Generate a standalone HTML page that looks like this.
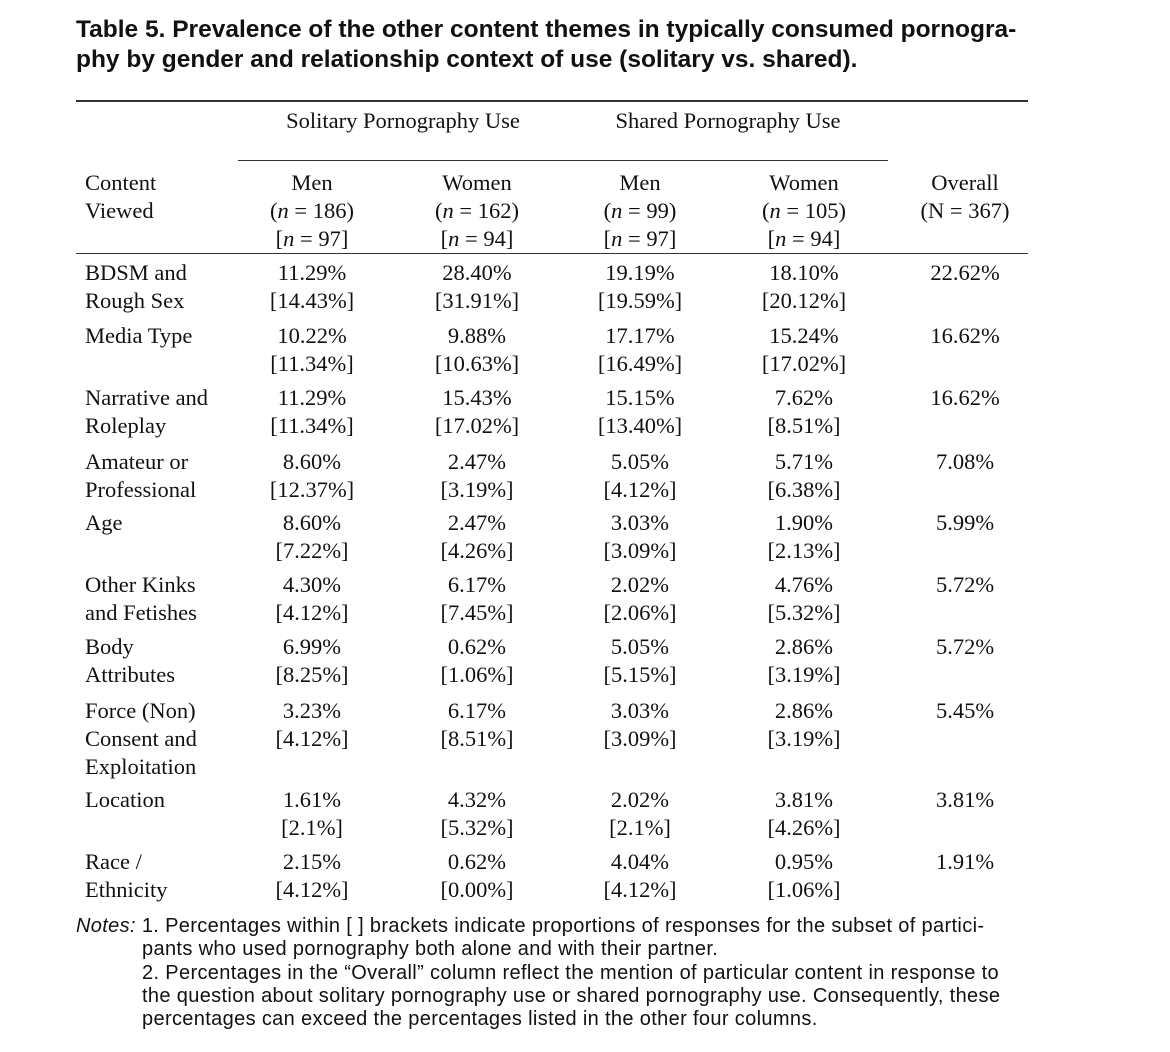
<!DOCTYPE html>
<html><head><meta charset="utf-8">
<style>
body{margin:0;width:1170px;height:1052px;background:#fff;position:relative;overflow:hidden;color:#111}
.t{position:absolute;font-family:"Liberation Sans",sans-serif;font-weight:bold;font-size:24.5px;left:76px;white-space:nowrap}
.s{position:absolute;font-family:"Liberation Serif",serif;font-size:22.5px;white-space:nowrap;line-height:28px}
.c{transform:translateX(-50%);text-align:center}
.r{position:absolute;background:#333;height:1.5px}
.n{position:absolute;font-family:"Liberation Sans",sans-serif;font-size:20px;letter-spacing:0.35px;white-space:nowrap;line-height:22px}
</style></head><body>
<div class="t" style="top:16px">Table 5. Prevalence of the other content themes in typically consumed pornogra-</div>
<div class="t" style="top:46px">phy by gender and relationship context of use (solitary vs. shared).</div>
<div class="r" style="top:100px;left:76px;width:952px"></div>
<div class="s c" style="top:107px;left:403px">Solitary Pornography Use</div>
<div class="s c" style="top:107px;left:728px">Shared Pornography Use</div>
<div class="r" style="top:160px;left:238px;width:650px;height:1px"></div>
<div class="s" style="top:169px;left:85px">Content<br>Viewed</div>
<div class="r" style="top:253px;left:76px;width:952px;height:1px"></div>
<div id="body"></div>
<div class="n" style="top:915px;left:76px"><i>Notes:</i> 1. Percentages within [ ] brackets indicate proportions of responses for the subset of partici-</div>
<div class="n" style="top:938px;left:142px">pants who used pornography both alone and with their partner.</div>
<div class="n" style="top:962px;left:142px">2. Percentages in the “Overall” column reflect the mention of particular content in response to</div>
<div class="n" style="top:985px;left:142px">the question about solitary pornography use or shared pornography use. Consequently, these</div>
<div class="n" style="top:1008px;left:142px">percentages can exceed the percentages listed in the other four columns.</div>
<script>
const colX=[312,477,640,804,965];
const headers=[["Men","(<i>n</i> = 186)","[<i>n</i> = 97]"],["Women","(<i>n</i> = 162)","[<i>n</i> = 94]"],["Men","(<i>n</i> = 99)","[<i>n</i> = 97]"],["Women","(<i>n</i> = 105)","[<i>n</i> = 94]"],["Overall","(N = 367)",""]];
const labels=[["BDSM and","Rough Sex"],["Media Type"],["Narrative and","Roleplay"],["Amateur or","Professional"],["Age"],["Other Kinks","and Fetishes"],["Body","Attributes"],["Force (Non)","Consent and","Exploitation"],["Location"],["Race /","Ethnicity"]];
const rowTop=[259,322,384,448,509,571,633,697,786,848];
const vals=[["11.29%","28.40%","19.19%","18.10%","22.62%"],["10.22%","9.88%","17.17%","15.24%","16.62%"],["11.29%","15.43%","15.15%","7.62%","16.62%"],["8.60%","2.47%","5.05%","5.71%","7.08%"],["8.60%","2.47%","3.03%","1.90%","5.99%"],["4.30%","6.17%","2.02%","4.76%","5.72%"],["6.99%","0.62%","5.05%","2.86%","5.72%"],["3.23%","6.17%","3.03%","2.86%","5.45%"],["1.61%","4.32%","2.02%","3.81%","3.81%"],["2.15%","0.62%","4.04%","0.95%","1.91%"]];
const subs=[["[14.43%]","[31.91%]","[19.59%]","[20.12%]"],["[11.34%]","[10.63%]","[16.49%]","[17.02%]"],["[11.34%]","[17.02%]","[13.40%]","[8.51%]"],["[12.37%]","[3.19%]","[4.12%]","[6.38%]"],["[7.22%]","[4.26%]","[3.09%]","[2.13%]"],["[4.12%]","[7.45%]","[2.06%]","[5.32%]"],["[8.25%]","[1.06%]","[5.15%]","[3.19%]"],["[4.12%]","[8.51%]","[3.09%]","[3.19%]"],["[2.1%]","[5.32%]","[2.1%]","[4.26%]"],["[4.12%]","[0.00%]","[4.12%]","[1.06%]"]];
const B=document.getElementById('body');
function add(html,x,y,center,name){const d=document.createElement('div');d.className='s'+(center?' c':'');d.style.left=x+'px';d.style.top=y+'px';d.innerHTML=html;


B.appendChild(d);}
headers.forEach((h,i)=>add(h.filter(Boolean).join('<br>'),colX[i],169,true,'column-header'));
labels.forEach((l,r)=>{
  add(l.join('<br>'),85,rowTop[r],false,'row-label');
  vals[r].forEach((v,c)=>{
    const inner=c<4?v+'<br>'+subs[r][c]:v;
    add(inner,colX[c],rowTop[r],true,'cell-value');
  });
});
</script>
</body></html>
